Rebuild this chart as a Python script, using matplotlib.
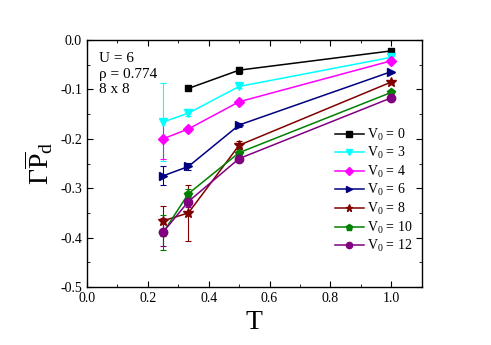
import matplotlib
matplotlib.use("Agg")
import matplotlib.pyplot as plt
from matplotlib.ticker import MultipleLocator

plt.rcParams['font.family'] = ['Liberation Serif', 'DejaVu Serif']
plt.rcParams['mathtext.fontset'] = 'custom'
plt.rcParams['mathtext.rm'] = 'Liberation Serif'
plt.rcParams['mathtext.it'] = 'Liberation Serif:italic'

# Data
T = [0.25, 1 / 3, 0.5, 1.0]
v0_labels = ["0", "3", "4", "6", "8", "10", "12"]
gamma_v0 = [
    [None, -0.098, -0.061, -0.022],
    [-0.166, -0.148, -0.094, -0.035],
    [-0.200, -0.180, -0.125, -0.042],
    [-0.275, -0.256, -0.172, -0.064],
    [-0.366, -0.350, -0.213, -0.085],
    [-0.390, -0.311, -0.228, -0.106],
    [-0.389, -0.327, -0.240, -0.117],
]
err_v0 = [
    [0, 0.003, 0.007, 0.002],
    [0.079, 0.005, 0.004, 0.002],
    [0.040, 0.004, 0.003, 0.002],
    [0.019, 0.008, 0.004, 0.002],
    [0.030, 0.057, 0.008, 0.003],
    [0.036, 0.010, 0.004, 0.002],
    [0.028, 0.010, 0.003, 0.002],
]
colors = ["black", "#00FFFF", "#FF00FF", "#000080", "#800000", "#008000", "#800080"]
markers = ["s", "v", "D", ">", "*", "p", "o"]
msizes = [5, 6, 5, 6, 7, 6, 6]

fig = plt.figure(figsize=(4.91, 3.45), dpi=100)
ax = fig.add_axes([0.177, 0.168, 0.682, 0.716])

handles = []
for vals, errs, c, m, ms, lab in zip(gamma_v0, err_v0, colors, markers, msizes, v0_labels):
    xs = [t for t, v in zip(T, vals) if v is not None]
    ys = [v for v in vals if v is not None]
    es = [e for e, v in zip(errs, vals) if v is not None]
    eb = ax.errorbar(xs, ys, yerr=es, color=c, marker=m, markersize=ms, lw=1.1,
                     elinewidth=0.8, capsize=2.5, capthick=0.8)
    handles.append(eb[0])
    if m == "o":
        ax.plot(xs, ys, linestyle="none", marker="o", markersize=2, color="white")

ax.set_xlim(0.0, 1.1)
ax.set_ylim(-0.5, 0.0)
ax.xaxis.set_major_locator(MultipleLocator(0.2))
ax.xaxis.set_minor_locator(MultipleLocator(0.1))
ax.yaxis.set_major_locator(MultipleLocator(0.1))
ax.yaxis.set_minor_locator(MultipleLocator(0.05))
ax.xaxis.set_major_formatter(plt.FuncFormatter(lambda v, p: f"{v:.1f}"))
ax.yaxis.set_major_formatter(plt.FuncFormatter(lambda v, p: f"{v:.1f}".replace("-0.0", "0.0")))
ax.tick_params(which="both", direction="in", top=True, right=True, labelsize=10)
ax.tick_params(which="major", length=4)
ax.tick_params(which="minor", length=2)
for sp in ax.spines.values():
    sp.set_linewidth(1.0)

ax.set_xlabel("T", fontsize=20)
ax.set_ylabel(r"$\Gamma\overline{\mathrm{P}}_\mathrm{d}$", fontsize=20)

ax.text(0.035, 0.95, "U = 6\nρ = 0.774\n8 x 8", transform=ax.transAxes,
        fontsize=11, va="top", ha="left", linespacing=1.25)

ax.legend(handles, [r"V$_\mathrm{0}$ = " + s for s in v0_labels],
          loc="upper left", frameon=False, fontsize=10, handlelength=2.1,
          labelspacing=0.18, borderpad=0, borderaxespad=0, handletextpad=0.2,
          markerscale=0.75, bbox_to_anchor=(0.74, 0.65))

fig.savefig("out.png", dpi=100)
